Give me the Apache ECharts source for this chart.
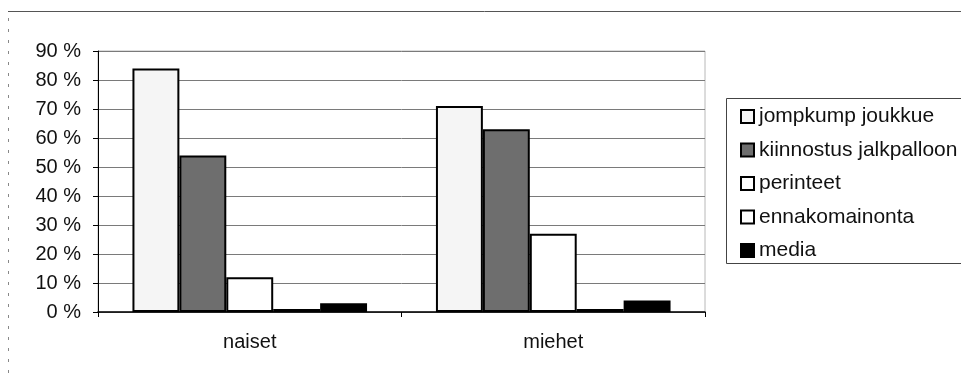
<!DOCTYPE html>
<html>
<head>
<meta charset="utf-8">
<script src="https://cdn.jsdelivr.net/npm/echarts@6/dist/echarts.min.js"></script>
<style>
  html, body { margin: 0; padding: 0; background: #fff; }
  #chart { width: 961px; height: 376px; }
</style>
</head>
<body>
<div id="chart"></div>
<script>
// Groups on the x axis
const categories = ['naiset', 'miehet'];

// Share of respondents (%) per reason
const jompkumpJoukkue = [84, 71];
const kiinnostusJalkpalloon = [54, 63];
const perinteet = [12, 27];
const ennakomainonta = [1, 1];
const media = [3, 4];

// Y axis range
const yMin = 0;
const yMax = 90;
const yStep = 10;

const seriesNames = ['jompkump joukkue', 'kiinnostus jalkpalloon', 'perinteet', 'ennakomainonta', 'media'];
const seriesValues = [jompkumpJoukkue, kiinnostusJalkpalloon, perinteet, ennakomainonta, media];
const fills = ['#f5f5f5', '#6e6e6e', '#ffffff', '#ffffff', '#000000'];

const font = 'Liberation Sans, Arial, sans-serif';

const chart = echarts.init(document.getElementById('chart'), null, { renderer: 'canvas' });

chart.setOption({
  animation: false,
  backgroundColor: '#ffffff',
  textStyle: { fontFamily: font },
  grid: {
    left: 98, right: 256, top: 51, bottom: 64,
    show: true, borderColor: '#b8b8b8', borderWidth: 1
  },
  legend: {
    orient: 'vertical',
    left: 735,
    top: 101,
    itemWidth: 13,
    itemHeight: 13,
    itemGap: 12.5,
    icon: 'rect',
    textStyle: { fontFamily: font, fontSize: 21, color: '#111', lineHeight: 21 },
    data: seriesNames.map((n, i) => ({
      name: n,
      itemStyle: { color: fills[i], borderColor: '#000', borderWidth: 2 }
    }))
  },
  xAxis: {
    type: 'category',
    data: categories,
    axisLine: { lineStyle: { color: '#000', width: 1.5 } },
    axisTick: { show: true, length: 5, lineStyle: { color: '#000' } },
    axisLabel: { fontSize: 20, color: '#111', margin: 20, fontFamily: font }
  },
  yAxis: {
    type: 'value',
    min: yMin,
    max: yMax,
    interval: yStep,
    axisLine: { show: true, lineStyle: { color: '#000', width: 1 } },
    axisTick: { show: true, length: 5, lineStyle: { color: '#000' } },
    axisLabel: { formatter: '{value} %', fontSize: 20, color: '#111', margin: 17, fontFamily: font },
    splitLine: { show: true, lineStyle: { color: '#7a7a7a', width: 1 } }
  },
  series: seriesNames.map((n, i) => ({
    name: n,
    type: 'bar',
    data: seriesValues[i],
    barGap: '0%',
    barCategoryGap: '22.7%',
    itemStyle: { color: fills[i], borderColor: '#000', borderWidth: 2 }
  })),
  graphic: [
    {
      type: 'line',
      shape: { x1: 8, y1: 11.5, x2: 961, y2: 11.5 },
      style: { stroke: '#555', lineWidth: 1 }
    },
    {
      type: 'line',
      shape: { x1: 8.5, y1: 18, x2: 8.5, y2: 376 },
      style: { stroke: '#888', lineWidth: 1, lineDash: [3, 8] }
    },
    {
      type: 'rect',
      shape: { x: 726.5, y: 98.5, width: 260, height: 165 },
      style: { fill: 'none', stroke: '#444', lineWidth: 1 },
      z: 0
    }
  ]
});
</script>
</body>
</html>
